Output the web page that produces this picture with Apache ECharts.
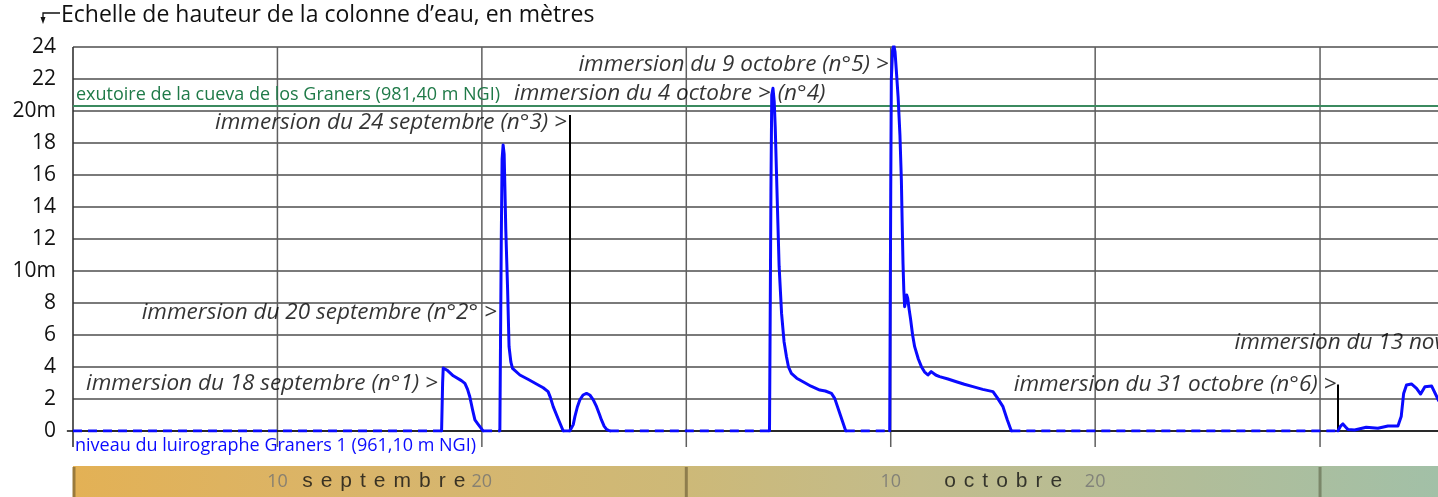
<!DOCTYPE html>
<html><head><meta charset="utf-8">
<script src="https://cdn.jsdelivr.net/npm/echarts@6/dist/echarts.min.js"></script>
<style>html,body{margin:0;padding:0;background:#fff}#c{width:1438px;height:497px}</style>
</head><body><div id="c"></div>
<script>
// ---------------- data (days counted from 31 August = 0; level in metres) ----------------
const titleText = 'Echelle de hauteur de la colonne d\u2019eau, en m\u00e8tres';
const yMax = 24;
const yStep = 2;
const yUnitLabels = {10: '10m', 20: '20m'};
const xMax = 66.77;

const ev1Day   = [18.03, 18.08, 18.11, 18.3, 18.6, 19.0, 19.17, 19.3, 19.41, 19.55, 19.66, 19.8, 19.95, 20.06];
const ev1Level = [0, 3.0, 3.94, 3.8, 3.45, 3.15, 2.98, 2.6, 2.14, 1.3, 0.69, 0.45, 0.2, 0];

const ev2Day   = [20.88, 20.95, 20.99, 21.04, 21.09, 21.13, 21.17, 21.22, 21.26, 21.33, 21.42, 21.50, 21.86, 22.3, 22.67, 23.0, 23.24, 23.35, 23.49, 23.75, 23.98];
const ev2Level = [0, 12, 17.0, 17.88, 17.3, 15.0, 12.6, 10.5, 8.8, 5.27, 4.3, 3.92, 3.5, 3.2, 2.94, 2.7, 2.46, 2.1, 1.52, 0.7, 0];

const ev3Day   = [24.30, 24.39, 24.47, 24.55, 24.67, 24.79, 24.95, 25.12, 25.28, 25.45, 25.61, 25.75, 25.85, 25.98, 26.10, 26.26];
const ev3Level = [0, 0.1, 0.4, 0.9, 1.5, 1.94, 2.25, 2.35, 2.25, 1.95, 1.52, 1.05, 0.69, 0.3, 0.1, 0];

const ev4Day   = [34.07, 34.14, 34.18, 34.24, 34.30, 34.35, 34.41, 34.48, 34.54, 34.66, 34.78, 34.90, 35.0, 35.14, 35.4, 35.71, 36.1, 36.53, 36.8, 37.10, 37.26, 37.51, 37.80];
const ev4Level = [0, 15, 21.0, 21.42, 20.6, 19.0, 16.2, 13, 10.3, 7.35, 5.6, 4.64, 4.0, 3.6, 3.3, 3.08, 2.8, 2.56, 2.5, 2.35, 2.04, 1.1, 0];

const ev5Day   = [39.95, 40.0, 40.03, 40.09, 40.15, 40.21, 40.27, 40.36, 40.45, 40.52, 40.56, 40.60, 40.64, 40.68, 40.72, 40.78, 40.83, 40.90, 40.97, 41.07, 41.17, 41.35, 41.50, 41.65, 41.82, 41.98, 42.2, 42.39, 42.8, 43.21, 43.6, 44.02, 44.5, 45.00, 45.2, 45.49, 45.7, 45.90];
const ev5Level = [0, 15, 22.0, 23.8, 24.1, 23.7, 22.6, 20.9, 18.5, 15.7, 13, 10.5, 8.8, 7.77, 8.0, 8.5, 8.3, 7.6, 7.0, 6.0, 5.27, 4.5, 4.02, 3.7, 3.5, 3.71, 3.5, 3.4, 3.25, 3.08, 2.92, 2.77, 2.6, 2.46, 2.1, 1.52, 0.7, 0];

const ev6Day   = [61.87, 62.0, 62.12, 62.25, 62.36, 62.69, 63.26, 63.83, 64.32, 64.81, 64.97, 65.09, 65.23, 65.47, 65.72, 65.92, 66.13, 66.46, 66.80];
const ev6Level = [0, 0.3, 0.44, 0.25, 0.1, 0.06, 0.23, 0.17, 0.31, 0.31, 0.9, 2.35, 2.88, 2.94, 2.67, 2.31, 2.77, 2.81, 1.9];

const events = [[ev1Day, ev1Level], [ev2Day, ev2Level], [ev3Day, ev3Level], [ev4Day, ev4Level], [ev5Day, ev5Level], [ev6Day, ev6Level]];

const outletLevel = 20.3; // 981,40 - 961,10
const outletLabel = 'exutoire de la cueva de los Graners (981,40 m NGI)';
const baseLabel = 'niveau du luirographe Graners 1 (961,10 m NGI)';

const gridDays = [10, 20, 30, 40, 50, 61];
const monthBounds = [0, 30, 61];
const bandTickDays = [10, 20, 40, 50];
const bandTickLabels = ['10', '20', '10', '20'];
const monthNames = ['septembre', 'octobre'];

const markerDays = [24.30, 61.87];
const markerTops = [19.75, 2.9];

const immersionTexts = [
  'immersion du 18 septembre (n\u00b01) >',
  'immersion du 20 septembre (n\u00b02\u00b0 >',
  'immersion du 24 septembre (n\u00b03) >',
  'immersion du 4 octobre >',
  '(n\u00b04)',
  'immersion du 9 octobre (n\u00b05) >',
  'immersion du 31 octobre (n\u00b06) >',
  'immersion du 13 novembre (n\u00b07) >'
];
// annotation anchors (day, level) and side of the anchor the text sits on
const immersionAnchors = [
  [17.85, 2.94, 'left'], [20.73, 7.4, 'left'], [24.16, 19.3, 'left'], [34.13, 21.06, 'left'],
  [34.47, 21.06, 'right'], [39.9, 22.9, 'left'], [61.8, 2.9, 'left'], [56.82, 5.5, 'right']
];
const monthCenterDays = [15.2, 45.5];

// ---------------- chart ----------------
const FONT = 'Open Sans';
const BLUE = '#0a0aff';
const chart = echarts.init(document.getElementById('c'), null, {renderer: 'canvas'});

const series = [];

// vertical grid lines (extend slightly below zero)
series.push({
  type: 'custom', xAxisIndex: 0, yAxisIndex: 0, z: 1, clip: false, silent: true,
  data: gridDays.map(d => [d, 0]),
  renderItem: (params, api) => {
    const d = api.value(0);
    const p1 = api.coord([d, -1]); const p2 = api.coord([d, yMax]);
    return {type: 'line', shape: {x1: p1[0], y1: p1[1], x2: p2[0], y2: p2[1]},
      style: {stroke: '#5f5f5f', lineWidth: 1.5}};
  }
});
// left axis line and zero line
series.push({
  type: 'custom', xAxisIndex: 0, yAxisIndex: 0, z: 2, clip: false, silent: true,
  data: [[0, 0]],
  renderItem: (params, api) => {
    const p1 = api.coord([0, -1]); const p2 = api.coord([0, yMax]);
    const q1 = api.coord([-0.3, 0]); const q2 = api.coord([xMax, 0]);
    return {type: 'group', children: [
      {type: 'line', shape: {x1: p1[0], y1: p1[1], x2: p2[0], y2: p2[1]}, style: {stroke: '#333', lineWidth: 1.6}},
      {type: 'line', shape: {x1: q1[0], y1: q1[1], x2: q2[0], y2: q2[1]}, style: {stroke: '#111', lineWidth: 1.6}}
    ]};
  }
});

// outlet line + labels of reference levels
series.push({
  type: 'line', xAxisIndex: 0, yAxisIndex: 0, data: [], z: 3, silent: true,
  markLine: {
    symbol: 'none', silent: true, animation: false,
    data: [
      {yAxis: outletLevel, lineStyle: {color: '#3b8a5f', width: 2, type: 'solid'},
       label: {show: true, position: 'insideStartTop', formatter: outletLabel, color: '#1f7a48',
         fontFamily: FONT, fontSize: 18, distance: [3, 2]}},
      {yAxis: 0, lineStyle: {color: 'rgba(0,0,0,0)', width: 0},
       label: {show: true, position: 'insideStartBottom', formatter: baseLabel, color: BLUE,
         fontFamily: FONT, fontSize: 18, distance: [2, 6]}}
    ]
  }
});

// dashed zero segments between recordings
let prevEnd = 0;
events.forEach(([days]) => {
  series.push({
    type: 'line', xAxisIndex: 0, yAxisIndex: 0, z: 4, showSymbol: false, silent: true,
    data: [[prevEnd, 0], [days[0], 0]],
    lineStyle: {color: BLUE, width: 3, type: [9, 6]}
  });
  prevEnd = days[days.length - 1];
});

// recorded levels
events.forEach(([days, lev]) => {
  series.push({
    type: 'line', xAxisIndex: 0, yAxisIndex: 0, z: 5, showSymbol: false, silent: true,
    smooth: false, clip: true,
    data: days.map((d, i) => [d, lev[i]]),
    lineStyle: {color: BLUE, width: 3, join: 'round', cap: 'round'}
  });
});

// black immersion markers
series.push({
  type: 'line', xAxisIndex: 0, yAxisIndex: 0, data: [], z: 6, silent: true,
  markLine: {
    symbol: 'none', silent: true, animation: false, label: {show: false},
    lineStyle: {color: '#000', width: 2, type: 'solid'},
    data: markerDays.map((d, i) => [{coord: [d, 0]}, {coord: [d, markerTops[i]]}])
  }
});

// immersion labels
series.push({
  type: 'scatter', xAxisIndex: 0, yAxisIndex: 0, z: 7, symbolSize: 0, silent: true, clip: false,
  data: immersionTexts.map((t, i) => ({
    value: [immersionAnchors[i][0], immersionAnchors[i][1]], name: t,
    label: {position: immersionAnchors[i][2]}
  })),
  label: {show: true, formatter: p => p.name, distance: 0, color: '#000',
    fontFamily: FONT, fontStyle: 'italic', fontSize: 22.5}
});

// bottom month band
const bandGrad = new echarts.graphic.LinearGradient(0, 0, 1, 0, [
  {offset: 0, color: '#e3b155'}, {offset: 0.22, color: '#d9b56b'}, {offset: 0.45, color: '#cdb978'},
  {offset: 0.62, color: '#c2bc8c'}, {offset: 0.82, color: '#b1bd99'}, {offset: 1, color: '#a2c0a7'}
]);
series.push({
  type: 'custom', xAxisIndex: 1, yAxisIndex: 1, z: 1, clip: false, silent: true,
  data: [[0, 0]],
  renderItem: (params, api) => {
    const a = api.coord([0, 1]); const b = api.coord([xMax, 0]);
    const children = [{type: 'rect', shape: {x: a[0], y: a[1], width: b[0] - a[0], height: b[1] - a[1]},
      style: {fill: bandGrad}}];
    const sepColors = ['#9a7a3c', '#8e7d4d', '#7b876a'];
    monthBounds.forEach((m, i) => {
      const p = api.coord([m, 1]); const q = api.coord([m, 0]);
      const dx = i === 0 ? 1 : 0;
      children.push({type: 'line', shape: {x1: p[0] + dx, y1: p[1] + 1, x2: q[0] + dx, y2: q[1]},
        style: {stroke: sepColors[i], lineWidth: 3}});
    });
    return {type: 'group', children};
  }
});
series.push({
  type: 'scatter', xAxisIndex: 1, yAxisIndex: 1, z: 3, symbolSize: 0, silent: true, clip: false,
  data: bandTickDays.map((d, i) => ({value: [d, 0.5], name: bandTickLabels[i]})),
  label: {show: true, position: 'inside', formatter: p => p.name, color: '#737373',
    fontFamily: FONT, fontSize: 18}
});
series.push({
  type: 'scatter', xAxisIndex: 1, yAxisIndex: 1, z: 3, symbolSize: 0, silent: true, clip: false,
  data: monthNames.map((m, i) => ({value: [monthCenterDays[i], 0.5], name: m})),
  label: {show: true, position: 'inside',
    formatter: p => p.name.split('').map(ch => '{l|' + ch + '}').join(''),
    rich: {l: {color: '#111', fontFamily: 'Liberation Sans', fontSize: 21, padding: [0, 4]}}}
});

chart.setOption({
  animation: false,
  backgroundColor: '#fff',
  textStyle: {fontFamily: FONT},
  grid: [
    {left: 73, right: 0, top: 47, bottom: 66},
    {left: 73, right: 0, top: 466, height: 31}
  ],
  xAxis: [
    {type: 'value', gridIndex: 0, min: 0, max: xMax, show: false},
    {type: 'value', gridIndex: 1, min: 0, max: xMax, show: false}
  ],
  yAxis: [
    {type: 'value', gridIndex: 0, min: 0, max: yMax, interval: yStep,
      axisLine: {show: false}, axisTick: {show: false},
      axisLabel: {margin: 17, color: '#111', fontFamily: FONT, fontSize: 21,
        formatter: v => yUnitLabels[v] || String(v)},
      splitLine: {show: true, lineStyle: {color: '#7a7a7a', width: 1.8}}},
    {type: 'value', gridIndex: 1, min: 0, max: 1, show: false}
  ],
  graphic: [
    {type: 'text', x: 61, y: 15, style: {text: titleText, fill: '#111', font: '23px "' + FONT + '"',
      verticalAlign: 'middle', textVerticalAlign: 'middle'}},
    {type: 'polyline', shape: {points: [[60, 13], [43, 13], [43, 20]]}, style: {stroke: '#111', lineWidth: 1.3, fill: null}},
    {type: 'polygon', shape: {points: [[40.5, 17], [45.5, 17], [43, 24]]}, style: {fill: '#111'}}
  ],
  series
});
</script></body></html>
